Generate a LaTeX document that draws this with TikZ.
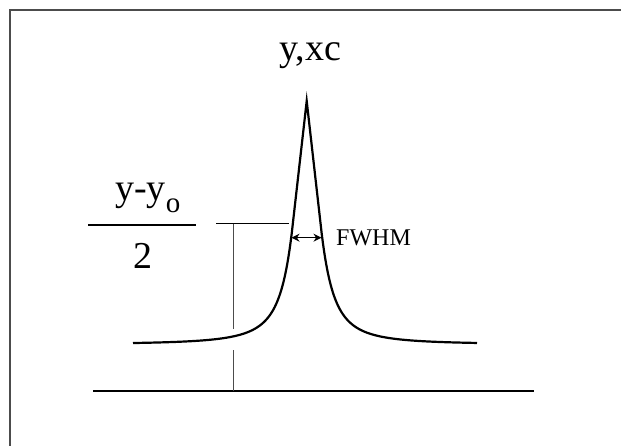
\documentclass[tikz,border=0pt]{standalone}
\usepackage{fontspec}
\setmainfont{Liberation Serif}
\usepackage{tikz}
\usetikzlibrary{arrows.meta}
\newcommand{\lblbig}{\fontsize{38}{38}\selectfont}
\newcommand{\lblsub}{\fontsize{29}{29}\selectfont}
\newcommand{\lblsmall}{\fontsize{24}{24}\selectfont}

\begin{document}
\begin{tikzpicture}[x=1pt,y=-1pt,>={Stealth[length=8pt,width=8pt]},
  curve/.style={line width=2.2pt,line join=miter},
  guide/.style={line width=1.3pt,black!70},
  lbl/.style={inner sep=0pt,anchor=base}]
\useasboundingbox (0,0) rectangle (621,445);
\fill[white] (0,0) rectangle (621,445);
\draw[line width=1.5pt,black!70] (10,460)--(10,10)--(640,10);
% curve
\coordinate (apex) at (306.7,101);
\draw[curve] plot[domain=133:291.7,samples=140] (\x,{344.5-247.8/(1+((\x-306.7)/13.5)^2)})
  -- (apex) -- plot[domain=321.7:477,samples=140] (\x,{344.5-247.8/(1+((\x-306.7)/13.5)^2)});
\coordinate (axL) at (93,391);
\coordinate (axR) at (534,391);
\draw[line width=1.8pt] (axL)--(axR);
% half maximum
\coordinate (hmL) at (216,223.5);
\coordinate (hmR) at (289,223.5);
\coordinate (vtop) at (233.3,223.5);
\coordinate (vgapA) at (233.3,329);
\coordinate (vgapB) at (233.3,350);
\coordinate (vbot) at (233.3,391);
\draw[line width=1pt] (hmL)--(hmR);
\draw[guide] (vtop)--(vgapA) (vgapB)--(vbot);
\coordinate (fwL) at (291.5,237.7);
\coordinate (fwR) at (321.5,237.7);
\draw[<->,line width=1.5pt] (fwL)--(fwR);
\node[lbl,anchor=base west] (fwhm) at (336,245) {\lblsmall FWHM};
% labels
\node[lbl] (peak) at (310,60) {\lblbig y,xc};
\node[lbl,anchor=base west] (num) at (115,200) {\lblbig y-y\raisebox{-12pt}{\lblsub o}};
\coordinate (barL) at (88,225);
\coordinate (barR) at (196,225);
\draw[line width=1.5pt] (barL)--(barR);
\node[lbl] (den) at (142.5,268) {\lblbig 2};
\end{tikzpicture}
\end{document}
